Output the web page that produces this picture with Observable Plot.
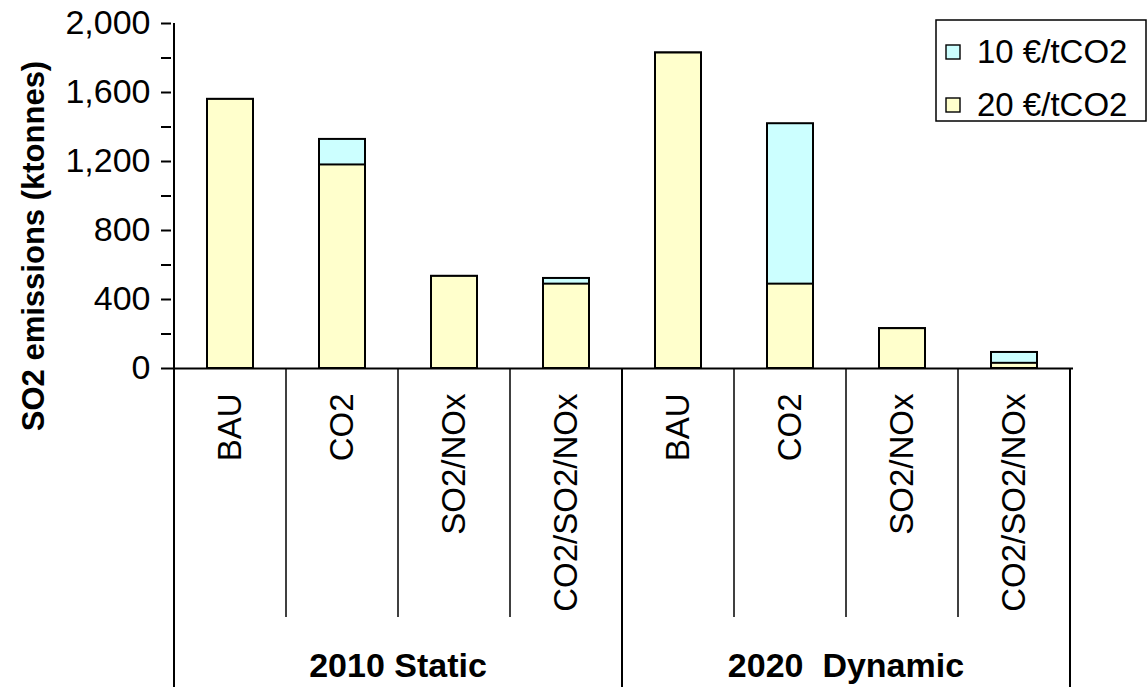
<!DOCTYPE html>
<html><head><meta charset="utf-8">
<script src="https://cdn.jsdelivr.net/npm/d3@7"></script>
<script src="https://cdn.jsdelivr.net/npm/@observablehq/plot@0.6"></script>
<style>body{margin:0;background:#fff;} svg{display:block}</style>
</head><body><div id="chart"></div>
<script>
const groups = ["2010 Static", "2020  Dynamic"];
const scenarios = ["BAU", "CO2", "SO2/NOx", "CO2/SO2/NOx"];
const price10 = [1560, 1328, 534, 522, 1829, 1419, 231, 93];
const price20 = [1560, 1180, 534, 489, 1829, 489, 231, 30];
const seriesNames = ["10 €/tCO2", "20 €/tCO2"];
const seriesColors = ["#CCFFFF", "#FFFFCC"];
const yTicks = [0, 400, 800, 1200, 1600, 2000];
const yMinorTicks = [200, 600, 1000, 1400, 1800];
const yTitle = "SO2 emissions (ktonnes)";

const rows = [];
groups.forEach((g, gi) => scenarios.forEach((s, si) => {
  const i = gi * scenarios.length + si;
  rows.push({key: g + "|" + s, group: g, scenario: s, v10: price10[i], v20: price20[i]});
}));

const W = 1147, H = 687, ML = 171, MR = 74, MT = 23, MB = 319;
const font = "'Liberation Sans', Arial, sans-serif";

const plot = Plot.plot({
  width: W, height: H, marginLeft: ML, marginRight: MR, marginTop: MT, marginBottom: MB,
  style: {fontFamily: font, background: "#fff", color: "#000", overflow: "visible"},
  x: {domain: rows.map(d => d.key), paddingInner: 0.59, paddingOuter: 0.295, label: null},
  y: {domain: [0, 2000], label: null},
  marks: [
    Plot.barY(rows, {x: "key", y: "v10", fill: seriesColors[0], stroke: "#000", strokeWidth: 2}),
    Plot.barY(rows, {x: "key", y: "v20", fill: seriesColors[1], stroke: "#000", strokeWidth: 2}),
    Plot.axisY({ticks: yTicks, tickSize: 10, tickPadding: 11, fontSize: 34, tickFormat: d3.format(","), strokeWidth: 2, label: null}),
    Plot.axisY({ticks: yMinorTicks, tickSize: 10, tickFormat: () => "", strokeWidth: 2, label: null}),
    Plot.axisX({tickSize: 0, tickPadding: 25, tickRotate: -90, fontSize: 33, tickFormat: k => k.split("|")[1], label: null}),
    Plot.ruleY([0], {stroke: "#000", strokeWidth: 2})
  ]
});

const svg = d3.select(plot);
const x = plot.scale("x"), y = plot.scale("y");
const step = x.step, bw = x.bandwidth;
const left = k => x.apply(k) - (step - bw) / 2;
const y0 = y.apply(0), yTop = y.apply(2000);
const innerBottom = y0 + 249;
const keys = rows.map(d => d.key);
const g = svg.append("g").attr("stroke", "#000").attr("stroke-width", 2);
g.append("line").attr("x1", left(keys[0])).attr("x2", left(keys[0])).attr("y1", yTop).attr("y2", H);
keys.forEach((k, i) => {
  if (i === 0) return;
  const xx = left(k);
  g.append("line").attr("x1", xx).attr("x2", xx).attr("y1", y0)
    .attr("y2", i % scenarios.length === 0 ? H : innerBottom).attr("stroke-width", i % scenarios.length === 0 ? 2 : 1.5);
});
const xEnd = left(keys[keys.length - 1]) + step;
g.append("line").attr("x1", xEnd).attr("x2", xEnd).attr("y1", y0).attr("y2", H);

groups.forEach((gr, gi) => {
  const a = left(keys[gi * scenarios.length]);
  const b = left(keys[(gi + 1) * scenarios.length - 1]) + step;
  svg.append("text").attr("x", (a + b) / 2).attr("y", 677).attr("text-anchor", "middle")
    .attr("font-weight", "bold").attr("font-size", 34).attr("font-family", font)
    .style("white-space", "pre").attr("fill", "#000").text(gr);
});

svg.append("text").attr("transform", `translate(44,246) rotate(-90)`).attr("text-anchor", "middle")
  .attr("font-weight", "bold").attr("font-size", 31).attr("font-family", font).attr("fill", "#000").text(yTitle);

const lg = svg.append("g").attr("font-family", font);
lg.append("rect").attr("x", 936).attr("y", 20).attr("width", 210).attr("height", 101)
  .attr("fill", "#fff").attr("stroke", "#000").attr("stroke-width", 1.5);
seriesNames.forEach((name, i) => {
  const cy = 52 + i * 53;
  lg.append("rect").attr("x", 946).attr("y", cy - 7).attr("width", 14).attr("height", 14)
    .attr("fill", seriesColors[i]).attr("stroke", "#000").attr("stroke-width", 1.4);
  lg.append("text").attr("x", 977).attr("y", cy + 11).attr("text-anchor", "start")
    .attr("font-size", 33).attr("fill", "#000").text(name);
});

document.getElementById("chart").append(plot);
</script>
</body></html>
